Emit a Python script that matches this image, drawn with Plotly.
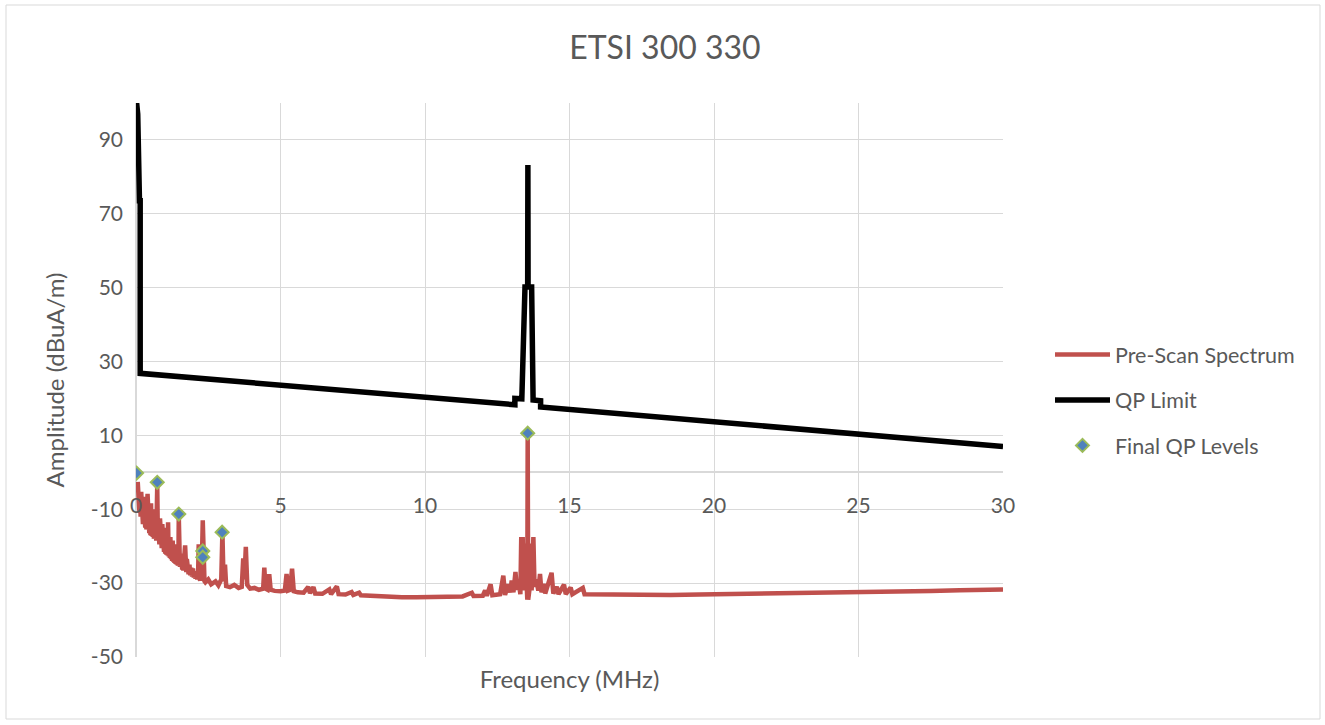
import plotly.graph_objects as go

# ---------------- data ----------------
scan_freq = [0.06, 0.08, 0.10, 0.12, 0.14, 0.16, 0.18, 0.20, 0.22, 0.24, 0.26, 0.28, 0.30, 0.32, 0.34,
             0.36, 0.38, 0.40, 0.42, 0.44, 0.46, 0.48, 0.50, 0.52, 0.54, 0.56, 0.58, 0.60, 0.62, 0.64,
             0.66, 0.68, 0.70, 0.72, 0.735, 0.75, 0.77, 0.79, 0.81, 0.83, 0.85, 0.87, 0.89, 0.91, 0.93,
             0.95, 0.97, 0.99, 1.01, 1.03, 1.05, 1.07, 1.09, 1.11, 1.13, 1.15, 1.17, 1.19, 1.21, 1.23,
             1.25, 1.27, 1.29, 1.31, 1.33, 1.35, 1.37, 1.39, 1.41, 1.43, 1.45, 1.47, 1.48, 1.50, 1.52,
             1.54, 1.56, 1.58, 1.60, 1.62, 1.64, 1.66, 1.70, 1.72, 1.74, 1.76, 1.78, 1.80, 1.82, 1.85,
             1.88, 1.91, 1.94, 1.97, 2.00, 2.03, 2.06, 2.09, 2.12, 2.15, 2.17, 2.19, 2.22, 2.25, 2.28,
             2.31, 2.34, 2.37, 2.40, 2.50, 2.60, 2.75, 2.85, 2.95, 2.99, 3.03, 3.08, 3.12, 3.25, 3.40,
             3.55, 3.66, 3.71, 3.75, 3.80, 3.85, 3.95, 4.10, 4.25, 4.40, 4.44, 4.48, 4.55, 4.61, 4.66,
             4.80, 5.00, 5.15, 5.21, 5.26, 5.33, 5.40, 5.46, 5.60, 5.80, 5.96, 6.02, 6.14, 6.20, 6.45,
             6.69, 6.75, 6.95, 7.01, 7.25, 7.46, 7.52, 7.72, 7.78, 8.2, 8.7, 9.2, 9.7, 10.2, 10.8,
             11.3, 11.62, 11.68, 12.0, 12.08, 12.14, 12.27, 12.33, 12.6, 12.71, 12.77, 12.88, 12.95, 13.0, 13.06,
             13.13, 13.18, 13.25, 13.30, 13.33, 13.36, 13.38, 13.42, 13.46, 13.50, 13.54, 13.553, 13.57, 13.61, 13.65,
             13.69, 13.75, 13.79, 13.85, 13.92, 13.98, 14.03, 14.10, 14.16, 14.38, 14.44, 14.56, 14.62, 14.81, 14.87,
             15.04, 15.10, 15.46, 15.52, 16.5, 17.5, 18.5, 19.5, 20.5, 21.5, 22.5, 23.5, 24.5, 25.5, 26.5,
             27.5, 28.5, 29.5, 30.0]
scan_level = [-2.6, -10.0, -4.5, -11.0, -6.0, -12.0, -5.3, -13.0, -8.0, -14.0, -6.6, -14.5, -9.0, -15.0, -7.5,
              -15.5, -10.0, -5.8, -16.0, -9.5, -16.5, -11.0, -17.0, -8.4, -17.2, -12.0, -17.5, -10.0, -18.0, -13.0,
              -18.0, -11.5, -18.5, -12.0, -3.5, -13.0, -19.0, -14.0, -19.5, -12.5, -20.0, -15.0, -20.5, -14.0, -21.0,
              -16.0, -21.5, -15.0, -22.0, -17.0, -22.3, -16.5, -22.5, -13.5, -22.8, -18.0, -23.2, -17.5, -23.5, -19.0,
              -24.0, -18.5, -24.2, -20.0, -24.5, -19.5, -24.8, -21.0, -25.0, -20.5, -25.3, -22.0, -11.8, -22.5, -25.6,
              -22.0, -26.0, -23.0, -26.3, -22.5, -26.6, -24.0, -19.8, -25.0, -27.0, -23.5, -27.3, -24.5, -27.6, -25.0,
              -27.9, -25.8, -28.2, -26.0, -28.5, -26.8, -28.8, -27.5, -29.0, -27.0, -19.5, -28.5, -29.3, -27.0, -24.0,
              -13.0, -24.0, -29.5, -29.8, -29.0, -30.3, -29.5, -30.6, -29.0, -16.2, -29.5, -25.0, -30.8, -31.1, -30.5,
              -31.3, -31.0, -23.3, -29.0, -20.2, -30.5, -31.5, -31.3, -31.8, -31.5, -25.8, -31.5, -31.8, -27.6, -31.8,
              -32.1, -32.2, -32.0, -27.5, -32.0, -31.8, -26.1, -32.2, -32.5, -32.6, -31.0, -32.7, -31.1, -32.8, -32.9,
              -31.7, -33.0, -30.9, -33.0, -33.1, -32.4, -33.2, -32.6, -33.3, -33.5, -33.6, -33.8, -33.8, -33.7, -33.7,
              -33.6, -32.6, -33.5, -33.4, -32.0, -33.4, -30.3, -33.3, -33.0, -28.0, -33.2, -30.3, -32.5, -29.3, -32.5,
              -27.0, -31.8, -30.0, -33.0, -17.5, -30.0, -17.5, -32.0, -19.3, -32.5, -34.5, 10.6, -34.5, -32.0, -19.3,
              -32.0, -17.5, -31.0, -29.0, -32.0, -27.5, -32.5, -30.2, -32.8, -27.2, -32.8, -31.0, -33.0, -30.4, -33.0,
              -31.2, -33.0, -31.3, -33.0, -33.1, -33.2, -33.2, -33.1, -33.0, -33.0, -32.9, -32.7, -32.6, -32.4, -32.3,
              -32.1, -31.9, -31.8, -31.7]

limit_freq = [0.009, 0.06, 0.12, 0.145, 0.145, 13.11, 13.11, 13.35, 13.46, 13.553, 13.56, 13.567, 13.69, 13.74,
              14.0, 14.0, 30.0]
limit_level = [101.0, 97.0, 73.5, 73.5, 26.8, 18.3, 20.0, 19.9, 50.2, 50.2, 83.2, 50.2, 50.2, 19.6,
               19.4, 17.7, 7.0]

qp_freq = [0.02, 0.735, 1.48, 2.31, 2.31, 2.98, 13.553]
qp_level = [-0.2, -2.7, -11.3, -21.3, -23.0, -16.2, 10.6]

x_ticks = [0, 5, 10, 15, 20, 25, 30]
y_ticks = [-50, -30, -10, 10, 30, 50, 70, 90]

title_text = "ETSI 300 330"
x_title = "Frequency (MHz)"
y_title = "Amplitude (dBuA/m)"

# ---------------- style ----------------
FONT = "Lato"
GRAY_TXT = "#595959"
GRID = "#d9d9d9"
RED = "#C0504D"
BLUE = "#4F81BD"
GREEN = "#9BBB59"

W, H = 1325, 725
L, R, T, B = 136, 322, 103, 68
pw, ph = W - L - R, H - T - B

fig = go.Figure()
fig.add_trace(go.Scatter(x=scan_freq, y=scan_level, mode="lines", name="Pre-Scan Spectrum",
                         line=dict(color=RED, width=4.5), legendgroup="a"))
fig.add_trace(go.Scatter(x=limit_freq, y=limit_level, mode="lines", name="QP Limit",
                         line=dict(color="black", width=5.5), legendgroup="b"))
fig.add_trace(go.Scatter(x=qp_freq, y=qp_level, mode="markers", name="Final QP Levels",
                         xaxis="x2",
                         marker=dict(symbol="diamond", size=10, color=BLUE,
                                     line=dict(color=GREEN, width=2)),
                         legendgroup="c"))


def px_to_paper_x(px):
    return (px - L) / pw


def px_to_paper_y(py):
    return (H - B - py) / ph


fig.update_layout(
    width=W, height=H,
    margin=dict(l=L, r=R, t=T, b=B, autoexpand=False),
    paper_bgcolor="white", plot_bgcolor="white",
    font=dict(family=FONT, color=GRAY_TXT, size=20),
    title=dict(text=title_text, x=665 / W, xref="container", xanchor="center",
               y=1 - 48 / H, yref="container", yanchor="middle",
               font=dict(size=32, color=GRAY_TXT, family=FONT)),
    xaxis=dict(range=[0, 30], tickvals=x_ticks, showticklabels=False, ticks="",
               showgrid=True, gridcolor=GRID, gridwidth=1,
               zeroline=True, zerolinecolor=GRID, zerolinewidth=1.5,
               showline=False,
               title=dict(text=x_title, standoff=14, font=dict(size=24, color=GRAY_TXT))),
    xaxis2=dict(range=[0, 30], overlaying="x", anchor="free", position=1 / 3,
                tickvals=x_ticks, ticktext=[str(v) for v in x_ticks], ticks="",
                showgrid=False, zeroline=False, showline=False,
                ticklabelstandoff=19,
                tickfont=dict(size=21, color=GRAY_TXT)),
    yaxis=dict(range=[-50, 100], tickvals=y_ticks, ticktext=[str(v) for v in y_ticks], ticks="",
               showgrid=True, gridcolor=GRID, gridwidth=1,
               zeroline=True, zerolinecolor=GRID, zerolinewidth=1.5,
               showline=False, ticklabelstandoff=12,
               tickfont=dict(size=21, color=GRAY_TXT),
               title=dict(text=y_title, standoff=19, font=dict(size=24, color=GRAY_TXT))),
    legend=dict(x=px_to_paper_x(1050), xanchor="left", y=px_to_paper_y(334), yanchor="top",
                traceorder="grouped", tracegroupgap=14.5, itemwidth=55,
                font=dict(size=21.5, color=GRAY_TXT), bgcolor="rgba(0,0,0,0)"),
    showlegend=True,
)

# chart-area border
fig.add_shape(type="rect", xref="paper", yref="paper",
              x0=px_to_paper_x(6), x1=px_to_paper_x(1320),
              y0=px_to_paper_y(719), y1=px_to_paper_y(5),
              line=dict(color=GRID, width=1), fillcolor="rgba(0,0,0,0)", layer="below")

fig.write_html("out.html", config={"displayModeBar": False},
               post_script="document.body.style.margin='0';")
